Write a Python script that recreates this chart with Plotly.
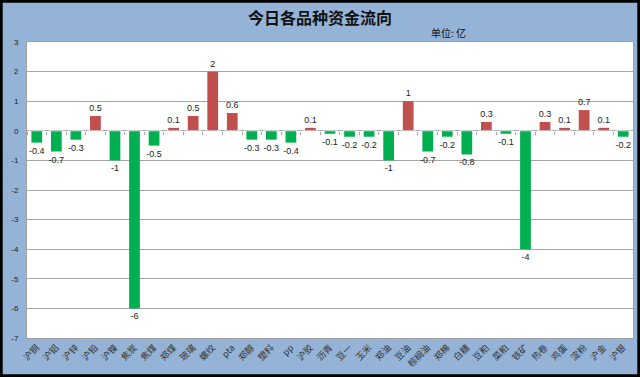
import plotly.graph_objects as go

categories = ["沪铜", "沪铝", "沪锌", "沪铅", "沪镍", "焦炭", "焦煤", "郑煤", "玻璃", "螺纹",
              "pta", "郑醇", "塑料", "pp", "沪胶", "沥青", "豆一", "玉米", "郑油", "豆油",
              "棕榈油", "郑棉", "白糖", "豆粕", "菜粕", "铁矿", "热卷", "鸡蛋", "淀粉", "沪金", "沪银"]
values = [-0.4, -0.7, -0.3, 0.5, -1, -6, -0.5, 0.1, 0.5, 2,
          0.6, -0.3, -0.3, -0.4, 0.1, -0.1, -0.2, -0.2, -1, 1,
          -0.7, -0.2, -0.8, 0.3, -0.1, -4, 0.3, 0.1, 0.7, 0.1, -0.2]
y_ticks = [3, 2, 1, 0, -1, -2, -3, -4, -5, -6, -7]

RED = "#C0504D"
GREEN = "#00B050"
colors = [RED if v > 0 else GREEN for v in values]
labels = [f"{v:g}" for v in values]

Y_MIN, Y_MAX = -7, 3

fig = go.Figure(go.Bar(
    x=categories, y=values, marker=dict(color=colors, line=dict(width=0)),
    text=labels, textposition="outside", cliponaxis=False, constraintext="none",
    textfont=dict(size=9, color="#222222", family="Liberation Sans"),
    width=0.55,
))
# invisible trace on the overlay axis so its tick marks are drawn along the zero line
fig.add_trace(go.Bar(x=categories, y=[0] * len(categories), xaxis="x2", showlegend=False,
                     hoverinfo="skip", marker=dict(color="rgba(0,0,0,0)")))

W, H = 640, 377
ml, mr, mt, mb = 27, 7, 42, 39
pw, ph = W - ml - mr, H - mt - mb

fig.update_layout(
    width=W, height=H,
    margin=dict(l=ml, r=mr, t=mt, b=mb, autoexpand=False),
    paper_bgcolor="#95B3D7",
    plot_bgcolor="white",
    showlegend=False,
    barmode="overlay",
    uniformtext=dict(minsize=9, mode="show"),
    title=dict(text="<b>今日各品种资金流向</b>", x=0.5, xanchor="center", y=0.952, yanchor="middle",
               font=dict(size=16, color="#111111", family="Noto Sans CJK SC")),
    annotations=[dict(text="单位: 亿", xref="paper", yref="paper", x=0.696, y=1.0, xanchor="center",
                      yanchor="bottom", showarrow=False,
                      font=dict(size=10, color="#111111", family="Noto Sans CJK SC"))],
    shapes=[dict(type="rect", xref="paper", yref="paper",
                 x0=-ml / pw + 0.002, x1=1 + mr / pw - 0.002, y0=-mb / ph + 0.004, y1=1 + mt / ph - 0.004,
                 line=dict(color="black", width=3), layer="above")],
    xaxis=dict(
        type="category", tickangle=-45, showgrid=False, zeroline=False, automargin=False,
        tickfont=dict(size=9, color="#333333", family="Noto Sans CJK SC"),
        showline=True, linecolor="#A0A0A0", mirror=True, ticks="",
    ),
    xaxis2=dict(type="category", overlaying="x", matches="x", anchor="free",
                position=(0 - Y_MIN) / (Y_MAX - Y_MIN), side="bottom",
                showticklabels=False, ticks="outside", ticklen=3, tickcolor="#A6A6A6",
                tickson="boundaries", showgrid=False, zeroline=False, showline=False,
                automargin=False),
    yaxis=dict(
        range=[Y_MIN, Y_MAX], tickvals=y_ticks, ticktext=[str(t) for t in y_ticks], automargin=False,
        showgrid=True, gridcolor="#A6A6A6", gridwidth=1,
        zeroline=True, zerolinecolor="#A6A6A6", zerolinewidth=1,
        tickfont=dict(size=8, color="#222222", family="Liberation Sans"),
        showline=True, linecolor="#A0A0A0", mirror=True, ticks="", ticklabelstandoff=6,
    ),
)
fig.write_html("out.html", config={"displayModeBar": False},
               post_script="document.body.style.margin='0';")
